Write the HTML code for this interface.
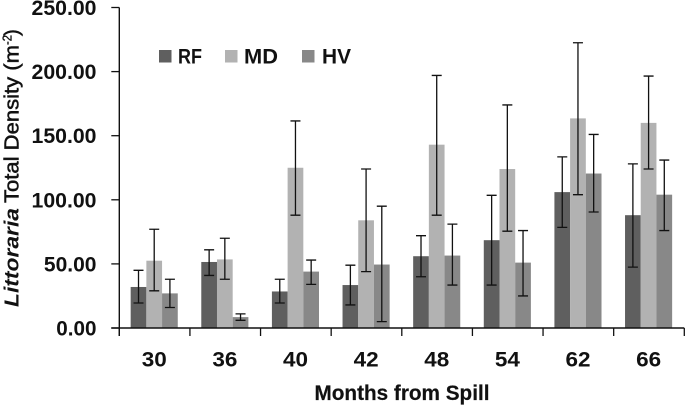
<!DOCTYPE html>
<html><head><meta charset="utf-8"><title>Littoraria Total Density</title>
<style>
html,body{margin:0;padding:0;background:#fff;width:685px;height:405px;overflow:hidden}
svg{display:block;font-family:"Liberation Sans",sans-serif;fill:#111;filter:blur(0.35px)}
text{font-weight:bold}
</style></head>
<body>
<svg id="chart" width="685" height="405" viewBox="0 0 685 405" xmlns="http://www.w3.org/2000/svg">
<g id="bars"></g>
<g id="errs"></g>
<g id="axes"></g>
<text x="314.5" y="400" font-size="21" stroke="#111" stroke-width="0.2" textLength="175" lengthAdjust="spacingAndGlyphs">Months from Spill</text>
<g transform="translate(18.5,0) rotate(-90)" font-size="20.5">
<text x="-307" y="0" font-style="italic" textLength="99" lengthAdjust="spacingAndGlyphs">Littoraria</text>
<text x="-203" y="0" style="font-weight:normal" stroke="#111" stroke-width="0.5" textLength="158" lengthAdjust="spacingAndGlyphs">Total Density (m</text>
<text x="-45" y="-7" font-size="13" style="font-weight:normal" stroke="#111" stroke-width="0.35" textLength="10" lengthAdjust="spacingAndGlyphs">-2</text>
<text x="-36" y="0" style="font-weight:normal" stroke="#111" stroke-width="0.5">)</text>
</g>
<g>
<g><rect x="159" y="50" width="12.5" height="12.5" fill="#5f5f5f"/><text x="178" y="63.5" font-size="21" textLength="24" lengthAdjust="spacingAndGlyphs">RF</text></g>
<g><rect x="225" y="50" width="12.5" height="12.5" fill="#b2b2b2"/><text x="244" y="63.5" font-size="21" textLength="34" lengthAdjust="spacingAndGlyphs">MD</text></g>
<g><rect x="302" y="50" width="12.5" height="12.5" fill="#888888"/><text x="322" y="63.5" font-size="21" textLength="29" lengthAdjust="spacingAndGlyphs">HV</text></g>
</g>
</svg>
<script>
var categories = ['30','36','40','42','48','54','62','66'];
var yTicks = ['0.00','50.00','100.00','150.00','200.00','250.00'];
var rfValues = [32, 51.5, 28.5, 33.5, 56, 68.5, 106, 88];
var mdValues = [52.5, 53.5, 125, 84, 143, 124, 163.5, 160];
var hvValues = [27, 8.5, 44, 49.5, 56.5, 51, 120.5, 104];
var rfHigh = [45, 61, 38, 49, 72, 103.5, 133.5, 128];
var rfLow = [19.5, 41, 19.5, 18, 40, 33.5, 78.5, 47.5];
var mdHigh = [77, 70, 161.5, 124, 197, 174, 222.5, 196.5];
var mdLow = [29, 38, 88, 44, 88, 75.5, 104, 124];
var hvHigh = [38, 11, 53, 95, 81, 76, 151, 131];
var hvLow = [16, 6, 34, 5, 33.5, 25, 90.5, 76];

var NS = 'http://www.w3.org/2000/svg';
var X0 = 119.3, X1 = 684.3, Y0 = 328, YMAX = 250, YTOP = 7.5;
var catW = (X1 - X0) / categories.length;
var barW = 15.7;
function yScale(v) { return Y0 - (v / YMAX) * (Y0 - YTOP); }
function xCenter(i) { return X0 + catW * (i + 0.5) - 0.4; }
function make(tag, attrs, parent) {
  var el = document.createElementNS(NS, tag);
  for (var k in attrs) el.setAttribute(k, attrs[k]);
  parent.appendChild(el);
  return el;
}
var barsG = document.getElementById('bars');
var errsG = document.getElementById('errs');
var axesG = document.getElementById('axes');
var seriesNames = ['rf', 'md', 'hv'];
var seriesColors = ['#5f5f5f', '#b2b2b2', '#888888'];
var seriesValues = [rfValues, mdValues, hvValues];
var seriesHigh = [rfHigh, mdHigh, hvHigh];
var seriesLow = [rfLow, mdLow, hvLow];

seriesValues.forEach(function (vals, s) {
  vals.forEach(function (v, i) {
    var cx = xCenter(i) + (s - 1) * barW;
    var rect = make('rect', { x: cx - barW / 2, y: yScale(v), width: barW, height: Y0 - yScale(v), fill: seriesColors[s] }, barsG);
    
    
    var hi = yScale(seriesHigh[s][i]), lo = yScale(seriesLow[s][i]);
    var path = make('path', {
      d: 'M' + (cx - 5) + ' ' + hi + 'H' + (cx + 5) + 'M' + cx + ' ' + hi + 'V' + lo + 'M' + (cx - 5) + ' ' + lo + 'H' + (cx + 5),
      stroke: '#111', 'stroke-width': 1.3, fill: 'none'
    }, errsG);
    
    
  });
});

var yAxis = make('line', { x1: X0, x2: X0, y1: YTOP, y2: Y0 + 8, stroke: '#111', 'stroke-width': 1.4 }, axesG);


var xAxis = make('line', { x1: X0 - 8, x2: X1, y1: Y0, y2: Y0, stroke: '#111', 'stroke-width': 1.4 }, axesG);



yTicks.forEach(function (label) {
  var y = yScale(parseFloat(label));
  var tick = make('line', { x1: X0 - 8, x2: X0, y1: y, y2: y, stroke: '#111', 'stroke-width': 1.3 }, axesG);
  
  
  var t = make('text', { x: 96.5, y: y + 7.5, 'text-anchor': 'end', 'font-size': 21, textLength: (label.length - 1) * 12.4 + 3, lengthAdjust: 'spacingAndGlyphs' }, axesG);
  t.textContent = label;
  
  
});

for (var j = 0; j <= categories.length; j++) {
  var tx = X0 + catW * j;
  var xt = make('line', { x1: tx, x2: tx, y1: Y0, y2: Y0 + 8, stroke: '#111', 'stroke-width': 1.3 }, axesG);
  
  
}
categories.forEach(function (c, i) {
  var t = make('text', { x: xCenter(i) - 12.5, y: 366.5, 'font-size': 21, textLength: 25, lengthAdjust: 'spacingAndGlyphs' }, axesG);
  t.textContent = c;
  
  
});
</script>
</body></html>
